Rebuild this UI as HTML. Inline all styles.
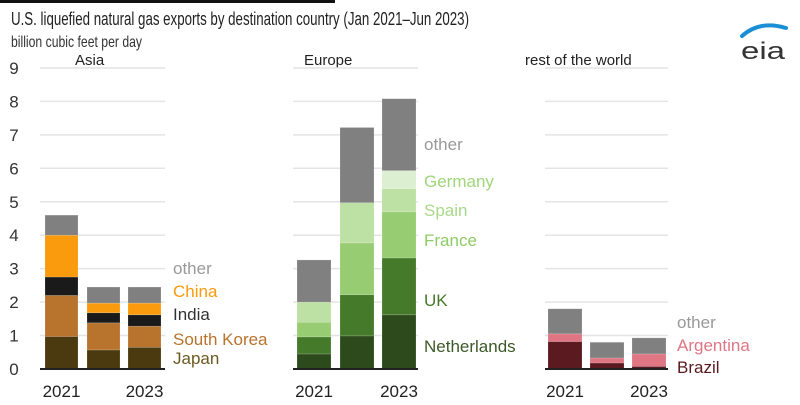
<!DOCTYPE html>
<html><head><meta charset="utf-8"><style>
html,body{margin:0;padding:0;background:#fff;}
svg{display:block;font-family:"Liberation Sans",sans-serif;}
</style></head><body>
<svg id="chart" width="800" height="405" viewBox="0 0 800 405">
<rect x="0" y="0" width="335" height="3" fill="#111"/>
<text x="11" y="25" font-size="18" fill="#222" textLength="458" lengthAdjust="spacingAndGlyphs">U.S. liquefied natural gas exports by destination country (Jan 2021–Jun 2023)</text>
<text x="11" y="47" font-size="16" fill="#333" textLength="131" lengthAdjust="spacingAndGlyphs">billion cubic feet per day</text>
<g>
<path d="M742 36 Q760 20 786 28" stroke="#1a8fd6" stroke-width="4" fill="none" stroke-linecap="round"/>
<text x="741" y="59" font-size="24" fill="#333" textLength="44" lengthAdjust="spacingAndGlyphs">eia</text>
</g>
<g id="axis"></g>
<g id="plot"></g>
</svg>
<script>
const years = ["2021", "2022", "2023"];
const asiaSeries = ["Japan", "South Korea", "India", "China", "other"];
const asiaJapan = [0.97, 0.57, 0.65];
const asiaSouthKorea = [1.23, 0.81, 0.63];
const asiaIndia = [0.55, 0.30, 0.34];
const asiaChina = [1.25, 0.29, 0.35];
const asiaOther = [0.60, 0.48, 0.48];
const euroSeries = ["Netherlands", "UK", "France", "Spain", "Germany", "other"];
const euroNetherlands = [0.45, 0.99, 1.62];
const euroUK = [0.51, 1.23, 1.70];
const euroFrance = [0.44, 1.55, 1.38];
const euroSpain = [0.60, 1.20, 0.69];
const euroGermany = [0, 0, 0.54];
const euroOther = [1.26, 2.25, 2.15];
const rowSeries = ["Brazil", "Argentina", "other"];
const rowBrazil = [0.82, 0.18, 0.08];
const rowArgentina = [0.23, 0.15, 0.37];
const rowOther = [0.75, 0.47, 0.48];
const yTicks = [0,1,2,3,4,5,6,7,8,9];

const NS = "http://www.w3.org/2000/svg";
const y0 = 369, unit = 33.45;
const yScale = v => y0 - v * unit;
function mk(tag, attrs, parent){const e=document.createElementNS(NS,tag);for(const k in attrs)e.setAttribute(k,attrs[k]);parent.appendChild(e);return e;}
const axis = document.getElementById('axis'), plot = document.getElementById('plot');

yTicks.forEach(t=>{
  const tx = mk('text',{x:14,y:yScale(t)+6,'font-size':17,fill:'#333','text-anchor':'middle'},axis);
  
  
  tx.textContent = t;
});

const panels = [
  {key:'asia', title:'Asia', titleX:75, gx0:40, gx1:165, bx:[45,87,128], bw:33,
   series:asiaSeries, data:[asiaJapan,asiaSouthKorea,asiaIndia,asiaChina,asiaOther],
   colors:['#4b3a10','#b8732d','#1a1a1a','#f99b0c','#808080'],
   lcolors:['#6b5a20','#b8732d','#333','#f99b0c','#999'], lx:173, ly:[364,345,320,297,274]},
  {key:'europe', title:'Europe', titleX:304, gx0:293, gx1:418, bx:[297,340,382], bw:34,
   series:euroSeries, data:[euroNetherlands,euroUK,euroFrance,euroSpain,euroGermany,euroOther],
   colors:['#2d4a1c','#467a2b','#98cc72','#bde0a4','#dcefd0','#808080'],
   lcolors:['#3d5a2a','#467a2b','#8dcc66','#a8d98a','#9fd67b','#999'], lx:424, ly:[352,306,246,216,187,150]},
  {key:'rest-of-world', title:'rest of the world', titleX:525, gx0:545, gx1:668, bx:[548,590,632], bw:34,
   series:rowSeries, data:[rowBrazil,rowArgentina,rowOther],
   colors:['#5a1a1f','#e07583','#808080'],
   lcolors:['#5a1a1f','#e07583','#999'], lx:677, ly:[373,351,328]}
];

panels.forEach(p=>{
  const g = mk('g',{},plot);
  
  
  const tt = mk('text',{x:p.titleX,y:65,'font-size':15,fill:'#222'},g);
  
  
  tt.textContent = p.title;
  yTicks.forEach(t=>{ if(t>0){
    const gl = mk('line',{x1:p.gx0,x2:p.gx1,y1:yScale(t),y2:yScale(t),stroke:'#e4e4e4','stroke-width':1.5},g);
    
    
  }});
  years.forEach((yr,i)=>{
    let acc = 0;
    p.data.forEach((arr,s)=>{
      const v = arr[i];
      if(v<=0) return;
      const r = mk('rect',{x:p.bx[i],y:yScale(acc+v),width:p.bw,height:v*unit,fill:p.colors[s],stroke:'rgba(255,255,255,0.25)','stroke-width':0.6},g);
      
      
      acc += v;
    });
    if(i!==1){
      const yl = mk('text',{x:p.bx[i]+p.bw/2,y:397,'font-size':17,fill:'#222','text-anchor':'middle'},g);
      
      
      yl.textContent = yr;
    }
  });
  const base = mk('line',{x1:p.gx0,x2:p.gx1,y1:y0,y2:y0,stroke:'#222','stroke-width':2},g);
  
  
  p.series.forEach((s,k)=>{
    const lt = mk('text',{x:p.lx,y:p.ly[k],'font-size':17,fill:p.lcolors[k]},g);
    
    
    lt.textContent = s;
  });
});
</script>
</body></html>
